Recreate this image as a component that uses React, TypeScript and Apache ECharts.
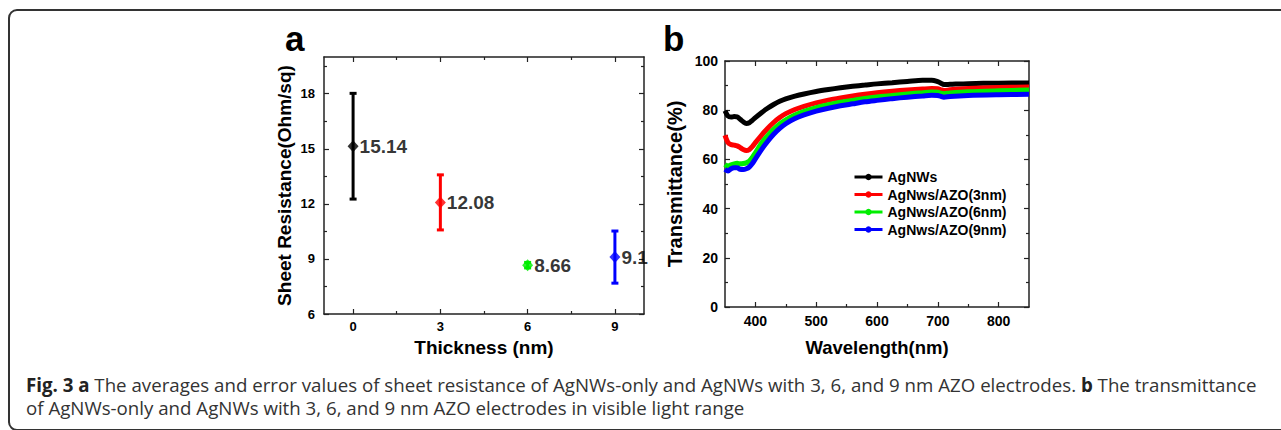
import React, { useEffect, useRef } from 'react';
import * as echarts from 'echarts';

// ---------- Panel a: sheet resistance ----------
const thicknessNm = [0, 3, 6, 9];
const resistanceMean = [15.14, 12.08, 8.66, 9.1];
const resistanceLow = [12.26, 10.58, 8.51, 7.68];
const resistanceHigh = [18.02, 13.58, 8.81, 10.52];
const thicknessMajorTicks = [0, 3, 6, 9];
const thicknessMinorTicks = [1.5, 4.5, 7.5];
const resistanceMajorTicks = [6, 9, 12, 15, 18];
const resistanceMinorTicks = [7.5, 10.5, 13.5, 16.5, 19.5];

// ---------- Panel b: transmittance ----------
const wavelengthNm = [350, 355, 360, 365, 370, 375, 380, 385, 390, 395, 400, 410, 420, 430, 440, 450, 465, 480, 500, 520, 540, 560, 580, 600, 625, 650, 675, 690, 700, 705, 710, 720, 750, 800, 850];
const tAgNWs = [79.8, 77.6, 77.2, 77.4, 77.3, 76.3, 75.3, 74.6, 74.9, 75.9, 77.0, 79.0, 80.8, 82.3, 83.6, 84.6, 85.7, 86.6, 87.6, 88.4, 89.1, 89.7, 90.2, 90.7, 91.2, 91.7, 92.2, 92.2, 91.6, 91.0, 90.4, 90.5, 90.8, 91.0, 91.1];
const tAZO3 = [69.8, 66.8, 66.0, 65.8, 65.5, 64.8, 64.0, 63.6, 64.0, 65.2, 66.8, 69.8, 72.6, 75.0, 77.0, 78.6, 80.3, 81.6, 83.0, 84.1, 85.0, 85.8, 86.5, 87.1, 87.7, 88.2, 88.6, 88.8, 88.7, 88.3, 88.0, 88.3, 88.8, 89.2, 89.4];
const tAZO6 = [58.0, 57.2, 57.8, 58.2, 58.4, 58.2, 58.3, 58.6, 59.3, 60.8, 62.7, 66.6, 69.6, 72.2, 74.4, 76.1, 78.0, 79.5, 81.0, 82.2, 83.2, 84.0, 84.8, 85.4, 86.0, 86.6, 87.1, 87.4, 87.3, 86.9, 86.7, 87.0, 87.5, 87.9, 88.2];
const tAZO9 = [56.0, 55.3, 56.2, 56.6, 56.6, 56.0, 55.9, 56.2, 56.9, 58.3, 60.2, 64.0, 67.3, 70.2, 72.6, 74.5, 76.6, 78.1, 79.6, 80.8, 81.8, 82.6, 83.4, 84.0, 84.7, 85.3, 85.8, 86.1, 86.0, 85.6, 85.3, 85.6, 86.0, 86.3, 86.5];
const seriesNames = ['AgNWs', 'AgNws/AZO(3nm)', 'AgNws/AZO(6nm)', 'AgNws/AZO(9nm)'];
const wavelengthMajorTicks = [400, 500, 600, 700, 800];
const wavelengthMinorTicks = [450, 550, 650, 750];
const transMajorTicks = [0, 20, 40, 60, 80, 100];
const transMinorTicks = [10, 30, 50, 70, 90];

const captionLine1 = '{b|Fig. 3 a} The averages and error values of sheet resistance of AgNWs-only and AgNWs with 3, 6, and 9 nm AZO electrodes. {b|b} The transmittance';
const captionLine2 = 'of AgNWs-only and AgNWs with 3, 6, and 9 nm AZO electrodes in visible light range';

// styles
const COLORS = ['#000000', '#ff0000', '#00ee00', '#0000ff'];
const FONT = 'Arial, "Liberation Sans", sans-serif';
const CAPTION_FONT = '"Open Sans", sans-serif';
const AXIS_COLOR = '#222';

function frameAxes(
  dim: 'x' | 'y',
  gridIndex: number,
  min: number,
  max: number,
  majors: number[],
  minors: number[],
  labelStyle: any,
  nameStyle: any
) {
  const main = dim === 'x' ? 'bottom' : 'left';
  const opp = dim === 'x' ? 'top' : 'right';
  const base = {
    type: 'value',
    gridIndex,
    min,
    max,
    splitLine: { show: false },
  };
  const tickLine = { color: AXIS_COLOR, width: 1.2 };
  return [
    {
      ...base,
      position: main,
      ...nameStyle,
      axisLine: { show: true, onZero: false, lineStyle: { color: AXIS_COLOR, width: 1.5 } },
      axisTick: { show: true, inside: true, length: 5, customValues: majors, lineStyle: tickLine },
      axisLabel: { show: true, customValues: majors, fontFamily: FONT, fontWeight: 'bold', color: '#000', ...labelStyle },
    },
    {
      ...base,
      position: main,
      axisLine: { show: false, onZero: false },
      axisTick: { show: true, inside: true, length: 3, customValues: minors, lineStyle: tickLine },
      axisLabel: { show: false },
    },
    {
      ...base,
      position: opp,
      axisLine: { show: true, onZero: false, lineStyle: { color: AXIS_COLOR, width: 1.5 } },
      axisTick: { show: true, inside: true, length: 5, customValues: majors, lineStyle: tickLine },
      axisLabel: { show: false },
    },
    {
      ...base,
      position: opp,
      axisLine: { show: false, onZero: false },
      axisTick: { show: true, inside: true, length: 3, customValues: minors, lineStyle: tickLine },
      axisLabel: { show: false },
    },
  ];
}

const nameText = (size: number) => ({ fontFamily: FONT, fontWeight: 'bold', fontSize: size, color: '#000' });

const transSeries = [tAgNWs, tAZO3, tAZO6, tAZO9];

const option: any = {
  animation: false,
  textStyle: { fontFamily: FONT },
  grid: [
    { left: 324, top: 57, width: 320, height: 257 },
    { left: 725, top: 61, width: 304, height: 246 },
  ],
  xAxis: [
    ...frameAxes('x', 0, -1, 10, thicknessMajorTicks, thicknessMinorTicks, { fontSize: 13, margin: 6 }, {
      name: 'Thickness (nm)', nameLocation: 'middle', nameGap: 24, nameTextStyle: nameText(19),
    }),
    ...frameAxes('x', 1, 350, 850, wavelengthMajorTicks, wavelengthMinorTicks, { fontSize: 14, margin: 7 }, {
      name: 'Wavelength(nm)', nameLocation: 'middle', nameGap: 31, nameTextStyle: nameText(18.5),
    }),
  ],
  yAxis: [
    ...frameAxes('y', 0, 6, 20, resistanceMajorTicks, resistanceMinorTicks, { fontSize: 13, margin: 9 }, {
      name: 'Sheet Resistance(Ohm/sq)', nameLocation: 'middle', nameGap: 30, nameTextStyle: nameText(19),
    }),
    ...frameAxes('y', 1, 0, 100, transMajorTicks, transMinorTicks, { fontSize: 14, margin: 7 }, {
      name: 'Transmittance(%)', nameLocation: 'middle', nameGap: 40, nameTextStyle: nameText(20),
    }),
  ],
  legend: {
    data: seriesNames,
    orient: 'vertical',
    left: 848,
    top: 165,
    itemWidth: 28,
    itemHeight: 8,
    itemGap: 3.5,
    lineStyle: { width: 3 },
    textStyle: { fontFamily: FONT, fontWeight: 'bold', fontSize: 14, color: '#000' },
  },
  series: [
    {
      type: 'custom',
      xAxisIndex: 0,
      yAxisIndex: 0,
      z: 2,
      data: thicknessNm.map((t, i) => [t, resistanceLow[i], resistanceHigh[i], i]),
      encode: { x: 0, y: [1, 2] },
      renderItem: (params: any, api: any) => {
        const x = api.value(0);
        const lo = api.coord([x, api.value(1)]);
        const hi = api.coord([x, api.value(2)]);
        const idx = api.value(3);
        const style = { stroke: COLORS[idx], lineWidth: 3, fill: 'none' };
        const w = 3.5;
        return {
          type: 'group',
          children: [
            { type: 'line', shape: { x1: lo[0], y1: lo[1], x2: hi[0], y2: hi[1] }, style },
            { type: 'line', shape: { x1: lo[0] - w, y1: lo[1], x2: lo[0] + w, y2: lo[1] }, style },
            { type: 'line', shape: { x1: hi[0] - w, y1: hi[1], x2: hi[0] + w, y2: hi[1] }, style },
          ],
        };
      },
    },
    {
      type: 'scatter',
      xAxisIndex: 0,
      yAxisIndex: 0,
      z: 3,
      symbol: 'diamond',
      symbolSize: [11, 12],
      data: thicknessNm.map((t, i) => ({ value: [t, resistanceMean[i]], itemStyle: { color: COLORS[i] } })),
      label: {
        show: true,
        position: 'right',
        distance: 1,
        formatter: (p: any) => String(p.value[1]),
        fontFamily: FONT,
        fontWeight: 'bold',
        fontSize: 19,
        color: '#000',
      },
    },
    ...seriesNames.map((name, i) => ({
      type: 'line',
      name,
      xAxisIndex: 4,
      yAxisIndex: 4,
      data: wavelengthNm.map((w, j) => [w, transSeries[i][j]]),
      smooth: 0.3,
      symbol: 'circle',
      symbolSize: 6,
      showSymbol: false,
      color: COLORS[i],
      lineStyle: { width: 5, color: COLORS[i] },
      itemStyle: { color: COLORS[i] },
    })),
  ],
  graphic: [
    {
      type: 'rect',
      shape: { x: 9, y: 10, width: 1290, height: 420, r: 8 },
      style: { fill: 'none', stroke: '#333', lineWidth: 2 },
      silent: true,
    },
    {
      type: 'text',
      x: 285,
      y: 38,
      style: { text: 'a', fontFamily: FONT, fontWeight: 'bold', fontSize: 35, fill: '#000', verticalAlign: 'middle', align: 'left' },
    },
    {
      type: 'text',
      x: 663,
      y: 38,
      style: { text: 'b', fontFamily: FONT, fontWeight: 'bold', fontSize: 35, fill: '#000', verticalAlign: 'middle', align: 'left' },
    },
    {
      type: 'text',
      x: 26,
      y: 373,
      style: {
        text: captionLine1 + '\n' + captionLine2,
        fontFamily: CAPTION_FONT,
        fontSize: 18.7,
        lineHeight: 23,
        fill: '#333',
        verticalAlign: 'top',
        align: 'left',
        rich: { b: { fontFamily: CAPTION_FONT, fontSize: 18.7, lineHeight: 23, fontWeight: 'bold', fill: '#222' } },
      },
    },
  ],
};

export default function App() {
  const ref = useRef<HTMLDivElement>(null);
  useEffect(() => {
    if (!ref.current) return;
    const chart = echarts.init(ref.current, null, { renderer: 'svg' });
    chart.setOption(option);
    return () => chart.dispose();
  }, []);
  return (
    <div
      ref={ref}
      style={{ position: 'absolute', left: 0, top: 0, width: 1281, height: 430, background: '#fff' }}
    />
  );
}
